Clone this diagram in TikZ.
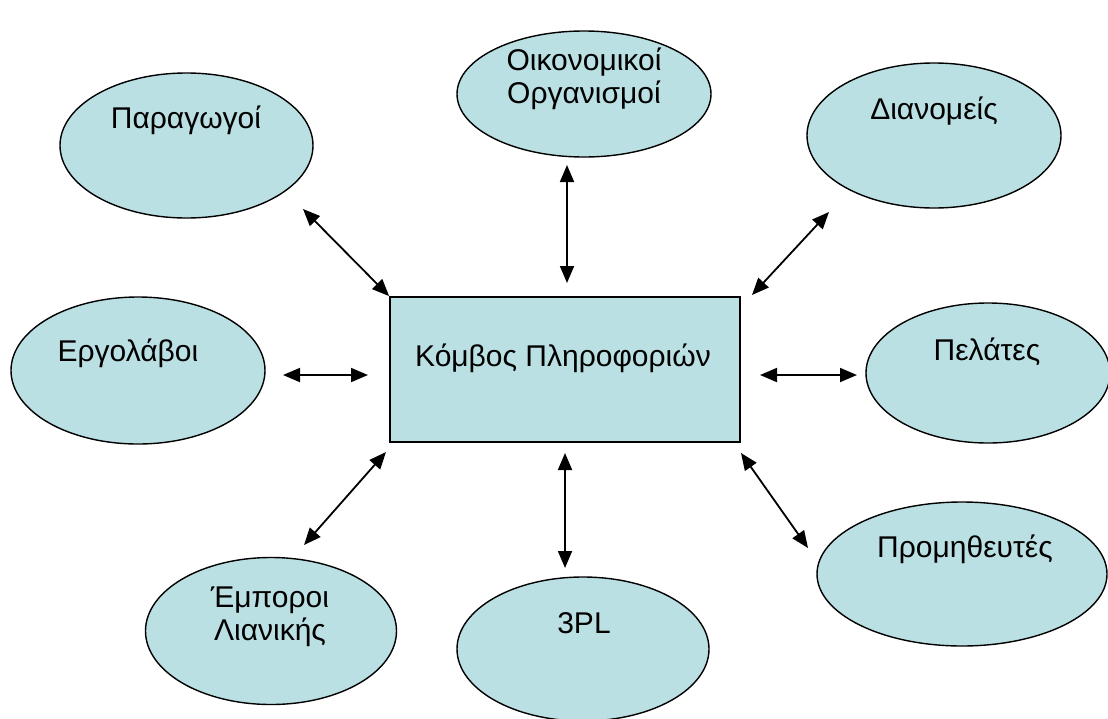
\documentclass[tikz,border=0pt]{standalone}
\usepackage{fontspec}
\setmainfont{Liberation Sans}
\usetikzlibrary{shapes.geometric,arrows.meta}
\definecolor{nodefill}{HTML}{BAE0E3}
\tikzset{
  blob/.style={ellipse, draw=black, line width=1.4pt, fill=nodefill, inner sep=0pt},
  hubbox/.style={rectangle, draw=black, line width=1.8pt, fill=nodefill, inner sep=0pt},
  lbl/.style={font=\fontsize{30}{33}\selectfont, align=center, inner sep=0pt, anchor=base},
  link/.style={line width=1.8pt, {Triangle[length=17pt,width=14pt]}-{Triangle[length=17pt,width=14pt]}}
}
\begin{document}
\begin{tikzpicture}[x=1pt,y=-1pt]
\useasboundingbox (0,0) rectangle (1108,718);
\fill[white] (0,0) rectangle (1108,718);

% central hub
\node[hubbox, minimum width=350pt, minimum height=145pt] (hub) at (565,369.5) {};
\node[lbl] (hubtxt) at (563,366) {Κόμβος Πληροφοριών};

% surrounding partners
\node[blob, minimum width=253pt, minimum height=145pt] (par) at (186.5,145.5) {};
\node[lbl] (partxt) at (186,128) {Παραγωγοί};

\node[blob, minimum width=254pt, minimum height=126pt] (oik) at (584,94) {};
\node[lbl] (oiktxt1) at (584,70) {Οικονομικοί};
\node[lbl] (oiktxt2) at (584,103) {Οργανισμοί};

\node[blob, minimum width=254pt, minimum height=145pt] (dia) at (934,135.5) {};
\node[lbl] (diatxt) at (934,119) {Διανομείς};

\node[blob, minimum width=254pt, minimum height=147pt] (erg) at (138,370.5) {};
\node[lbl] (ergtxt) at (128,361) {Εργολάβοι};

\node[blob, minimum width=244pt, minimum height=140pt] (pel) at (988,373) {};
\node[lbl] (peltxt) at (987,360) {Πελάτες};

\node[blob, minimum width=290pt, minimum height=144pt] (pro) at (962,574) {};
\node[lbl] (protxt) at (965,557) {Προμηθευτές};

\node[blob, minimum width=251pt, minimum height=147pt] (emp) at (271,631) {};
\node[lbl] (emptxt1) at (270,607) {Έμποροι};
\node[lbl] (emptxt2) at (270,640) {Λιανικής};

\node[blob, minimum width=252pt, minimum height=144pt] (tpl) at (583,649) {};
\node[lbl] (tpltxt) at (584,633) {3PL};

% arrow ends
\coordinate (parE) at (303,209);
\coordinate (oikE) at (567,165);
\coordinate (oikH) at (567,283);
\coordinate (diaE) at (829,212);
\coordinate (diaH) at (752,295);
\coordinate (ergE) at (283,375);
\coordinate (ergH) at (368,375);
\coordinate (pelH) at (760,375);
\coordinate (pelE) at (857,375);
\coordinate (proH) at (741,453);
\coordinate (proE) at (808,548);
\coordinate (empH) at (386,452);
\coordinate (empE) at (304,545);
\coordinate (tplH) at (565,453);
\coordinate (tplE) at (565,568);

% two-way links
\draw[link] (parE) -- (hub.north west);
\draw[link] (oikE) -- (oikH);
\draw[link] (diaE) -- (diaH);
\draw[link] (ergE) -- (ergH);
\draw[link] (pelH) -- (pelE);
\draw[link] (proH) -- (proE);
\draw[link] (empH) -- (empE);
\draw[link] (tplH) -- (tplE);
\end{tikzpicture}
\end{document}
